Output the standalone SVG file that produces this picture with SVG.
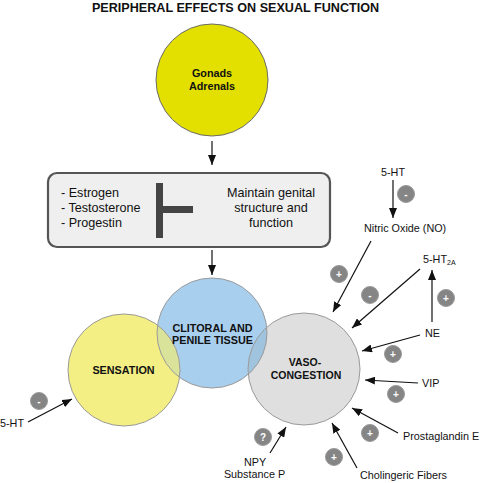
<svg xmlns="http://www.w3.org/2000/svg" width="482" height="483" viewBox="0 0 482 483">
<style>
text{font-family:"Liberation Sans",Arial,sans-serif;fill:#111}
.b{font-weight:bold}
.t{font-size:12.6px}
.l{font-size:10.8px}
.c{font-size:10.8px;font-weight:bold;text-anchor:middle}
.m{text-anchor:middle}
.badge circle{fill:#858585;stroke:#9a9a9a;stroke-width:1}
.badge text{fill:#fff;font-size:10px;font-weight:bold;text-anchor:middle}
.conn line{stroke:#111;stroke-width:1.2;marker-end:url(#ah)}
.ring{fill:none;stroke:#9a9a9a;stroke-width:1}
</style>
<defs>
<marker id="ah" markerUnits="userSpaceOnUse" markerWidth="10" markerHeight="8" refX="10" refY="4" orient="auto">
<path d="M0,0 L10,4 L0,8 z" fill="#111"/>
</marker>
<clipPath id="clipT"><circle cx="212" cy="333" r="55"/></clipPath>
</defs>
<rect width="482" height="483" fill="#fff"/>
<text class="b m" x="235.5" y="11.5" style="font-size:12.6px">PERIPHERAL EFFECTS ON SEXUAL FUNCTION</text>

<g id="gonads">
<circle cx="212" cy="80" r="56" fill="#e3e000" stroke="#6b6b6b" stroke-width="1"/>
<text class="c" x="212" y="77">Gonads</text>
<text class="c" x="212" y="90">Adrenals</text>
</g>

<g id="hormones">
<rect x="48" y="173" width="282" height="74" rx="9" fill="#efefef" stroke="#555" stroke-width="2.2"/>
<text class="t" x="61" y="197">- Estrogen</text>
<text class="t" x="61" y="212">- Testosterone</text>
<text class="t" x="61" y="227">- Progestin</text>
<rect x="156" y="183" width="7" height="55" fill="#444"/>
<rect x="163" y="206" width="30" height="7" fill="#444"/>
<text class="t m" x="271" y="197">Maintain genital</text>
<text class="t m" x="271" y="212">structure and</text>
<text class="t m" x="271" y="227">function</text>
</g>

<g id="tissue">
<circle cx="212" cy="333" r="55" fill="#a9cfee"/>
</g>
<g id="sensation">
<circle cx="124" cy="370" r="56" fill="#f4ef84"/>
<circle cx="124" cy="370" r="56" fill="#dae39a" clip-path="url(#clipT)"/>
</g>
<g id="vasocongestion">
<circle cx="304" cy="369" r="56" fill="#dfdfdf"/>
<circle cx="304" cy="369" r="56" fill="#a0c4de" clip-path="url(#clipT)"/>
</g>
<g id="rings">
<circle class="ring" cx="212" cy="333" r="55"/>
<circle class="ring" cx="124" cy="370" r="56"/>
<circle class="ring" cx="304" cy="369" r="56"/>
</g>
<text class="c" x="212.5" y="332">CLITORAL AND</text>
<text class="c" x="212.5" y="344">PENILE TISSUE</text>
<text class="c" x="123.5" y="374">SENSATION</text>
<text class="c" x="305" y="366" style="font-size:10.5px">VASO-</text>
<text class="c" x="306" y="379" style="font-size:10.5px">CONGESTION</text>

<g id="labels">
<text class="l m" x="393" y="176">5-HT</text>
<text class="l" x="364" y="232">Nitric Oxide (NO)</text>
<text class="l" x="423" y="263">5-HT<tspan font-size="7" dy="2">2A</tspan></text>
<text class="l" x="425" y="337">NE</text>
<text class="l" x="422" y="387">VIP</text>
<text class="l" x="403" y="440">Prostaglandin E</text>
<text class="l" x="360" y="479">Cholingeric Fibers</text>
<text class="l m" x="255" y="466">NPY</text>
<text class="l m" x="254.5" y="478">Substance P</text>
<text class="l" x="0" y="427">5-HT</text>
</g>

<g id="connectors" class="conn">
<line x1="212" y1="141" x2="212" y2="165"/>
<line x1="212" y1="250" x2="212" y2="275"/>
<line x1="393" y1="180" x2="393" y2="218"/>
<line x1="371" y1="241" x2="333" y2="312"/>
<line x1="420" y1="269" x2="352" y2="328"/>
<line x1="432" y1="322" x2="432" y2="270"/>
<line x1="420" y1="335" x2="362" y2="351"/>
<line x1="418" y1="383" x2="365" y2="380"/>
<line x1="398" y1="433" x2="352" y2="408"/>
<line x1="357" y1="468" x2="332" y2="423"/>
<line x1="270" y1="453" x2="286" y2="427"/>
<line x1="28" y1="422" x2="72" y2="399"/>
</g>

<g id="badges">
<g class="badge"><circle cx="406" cy="194" r="8.5"/><text x="406" y="197.5">-</text></g>
<g class="badge"><circle cx="339" cy="274" r="8.5"/><text x="339" y="277.5">+</text></g>
<g class="badge"><circle cx="370" cy="295" r="8.5"/><text x="370" y="298.5">-</text></g>
<g class="badge"><circle cx="446" cy="298" r="8.5"/><text x="446" y="301.5">+</text></g>
<g class="badge"><circle cx="393" cy="354" r="8.5"/><text x="393" y="357.5">+</text></g>
<g class="badge"><circle cx="396" cy="394" r="8.5"/><text x="396" y="397.5">+</text></g>
<g class="badge"><circle cx="370" cy="433" r="8.5"/><text x="370" y="436.5">+</text></g>
<g class="badge"><circle cx="334" cy="457" r="8.5"/><text x="334" y="460.5">+</text></g>
<g class="badge"><circle cx="263" cy="437" r="8.5"/><text x="263" y="440.5">?</text></g>
<g class="badge"><circle cx="39" cy="401" r="8.5"/><text x="39" y="404.5">-</text></g>
</g>
</svg>
